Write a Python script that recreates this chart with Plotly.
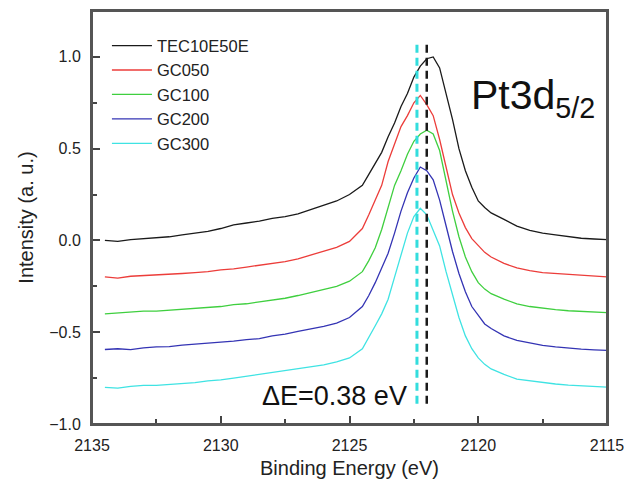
import plotly.graph_objects as go

# Binding energy grid (eV)
energy = [2134.5, 2134.0, 2133.5, 2133.0, 2132.5, 2132.0, 2131.5, 2131.0, 2130.5, 2130.0,
          2129.5, 2129.0, 2128.5, 2128.0, 2127.5, 2127.0, 2126.5, 2126.0, 2125.5, 2125.0,
          2124.5, 2124.25, 2124.0, 2123.75, 2123.5, 2123.25, 2123.0, 2122.75, 2122.5, 2122.25,
          2122.0, 2121.75, 2121.5, 2121.25, 2121.0, 2120.75, 2120.5, 2120.25, 2120.0, 2119.75,
          2119.5, 2119.0, 2118.5, 2118.0, 2117.5, 2117.0, 2116.5, 2116.0, 2115.5, 2115.0]

tec10e50e = [0.000, -0.005, 0.005, 0.010, 0.015, 0.020, 0.030, 0.038, 0.050, 0.065,
             0.085, 0.095, 0.105, 0.120, 0.130, 0.145, 0.168, 0.190, 0.215, 0.250,
             0.300, 0.360, 0.420, 0.480, 0.565, 0.640, 0.730, 0.800, 0.890, 0.950,
             0.990, 1.000, 0.940, 0.800, 0.660, 0.500, 0.380, 0.290, 0.215, 0.180,
             0.150, 0.115, 0.078, 0.055, 0.040, 0.030, 0.020, 0.012, 0.008, 0.005]

gc050 = [-0.198, -0.205, -0.195, -0.192, -0.190, -0.185, -0.180, -0.175, -0.170, -0.160,
         -0.155, -0.145, -0.135, -0.125, -0.115, -0.100, -0.080, -0.062, -0.038, -0.005,
         0.065, 0.140, 0.220, 0.300, 0.430, 0.520, 0.620, 0.680, 0.750, 0.790,
         0.740, 0.680, 0.550, 0.400, 0.250, 0.150, 0.070, 0.010, -0.030, -0.065,
         -0.090, -0.125, -0.150, -0.165, -0.175, -0.180, -0.185, -0.190, -0.195, -0.198]

gc100 = [-0.400, -0.395, -0.390, -0.385, -0.385, -0.380, -0.375, -0.370, -0.365, -0.360,
         -0.350, -0.345, -0.335, -0.325, -0.315, -0.300, -0.282, -0.266, -0.250, -0.222,
         -0.170, -0.110, -0.040, 0.060, 0.180, 0.300, 0.380, 0.470, 0.540, 0.580,
         0.600, 0.580, 0.490, 0.330, 0.160, 0.020, -0.090, -0.170, -0.230, -0.265,
         -0.290, -0.320, -0.345, -0.360, -0.370, -0.377, -0.383, -0.387, -0.390, -0.393]

gc200 = [-0.594, -0.590, -0.595, -0.585, -0.580, -0.578, -0.570, -0.565, -0.560, -0.555,
         -0.548, -0.540, -0.535, -0.520, -0.510, -0.495, -0.482, -0.468, -0.450, -0.420,
         -0.360, -0.300, -0.230, -0.150, -0.070, 0.040, 0.160, 0.260, 0.340, 0.400,
         0.380, 0.330, 0.220, 0.080, -0.060, -0.180, -0.280, -0.360, -0.410, -0.455,
         -0.480, -0.520, -0.545, -0.560, -0.572, -0.580, -0.587, -0.592, -0.596, -0.599]

gc300 = [-0.800, -0.805, -0.795, -0.790, -0.790, -0.785, -0.780, -0.775, -0.765, -0.760,
         -0.750, -0.740, -0.730, -0.722, -0.712, -0.700, -0.690, -0.678, -0.662, -0.640,
         -0.590, -0.530, -0.465, -0.400, -0.320, -0.200, -0.080, 0.040, 0.130, 0.175,
         0.140, 0.060, -0.030, -0.170, -0.300, -0.420, -0.520, -0.590, -0.640, -0.675,
         -0.700, -0.730, -0.755, -0.765, -0.775, -0.782, -0.788, -0.792, -0.796, -0.799]

series_names = ["TEC10E50E", "GC050", "GC100", "GC200", "GC300"]
series_values = [tec10e50e, gc050, gc100, gc200, gc300]
series_colors = ["#1a1a1a", "#ec3d3a", "#3fcf3f", "#3434b4", "#3fe3e3"]

# Peak positions marked with dashed lines
peak_positions = [2122.0, 2122.38]
peak_colors = ["#1a1a1a", "#33dddd"]
peak_widths = [2.5, 3]
marker_span = [-0.89, 1.08]

fig = go.Figure()
for name, vals, col in zip(series_names, series_values, series_colors):
    fig.add_trace(go.Scatter(x=energy, y=vals, mode="lines", name=name,
                             line=dict(color=col, width=1.3)))

for pos, col, w in zip(peak_positions, peak_colors, peak_widths):
    fig.add_trace(go.Scatter(x=[pos, pos], y=marker_span, mode="lines", showlegend=False,
                             line=dict(color=col, width=w, dash="8px,5px")))

font_family = "Liberation Sans, Arial, sans-serif"

fig.add_annotation(x=2120.35, y=0.775, xref="x", yref="y", text="Pt3d<sub>5/2</sub>",
                   showarrow=False, xanchor="left", yanchor="middle",
                   font=dict(size=41, color="#111111", family=font_family))
fig.add_annotation(x=2125.6, y=-0.85, xref="x", yref="y", text="ΔE=0.38 eV",
                   showarrow=False, xanchor="center", yanchor="middle",
                   font=dict(size=27, color="#111111", family=font_family))

# Plot frame
fig.add_shape(type="rect", xref="paper", yref="paper", x0=0, y0=0, x1=1, y1=1,
              line=dict(color="#555555", width=2), fillcolor="rgba(0,0,0,0)", layer="above")

axis_common = dict(showline=True, linecolor="#555555", linewidth=2, mirror=True,
                   ticks="inside", ticklen=8, tickwidth=1.5, tickcolor="#444444",
                   showgrid=False, zeroline=False, ticklabeloverflow="allow",
                   automargin=False,
                   tickfont=dict(size=16, color="#222222", family=font_family))

fig.update_layout(
    width=624, height=485,
    margin=dict(l=92, r=17, t=11, b=61, autoexpand=False),
    paper_bgcolor="white", plot_bgcolor="white",
    font=dict(family=font_family, color="#222222"),
    showlegend=True,
    legend=dict(x=0.029, y=0.958, xanchor="left", yanchor="top",
                bgcolor="rgba(0,0,0,0)", font=dict(size=16.5, color="#222222"),
                itemwidth=40),
    xaxis=dict(range=[2135, 2115], tickvals=[2135, 2130, 2125, 2120, 2115],
               ticktext=["2135", "2130", "2125", "2120", "2115"],
               minor=dict(ticks="inside", ticklen=5, tickcolor="#444444", dtick=2.5, tick0=2115),
               title=dict(text="Binding Energy (eV)", font=dict(size=20, color="#222222"), standoff=8),
               ticklabelstandoff=6,
               **axis_common),
    yaxis=dict(range=[-1.0, 1.25], tickvals=[-1.0, -0.5, 0.0, 0.5, 1.0],
               ticktext=["\u22121.0", "\u22120.5", "0.0", "0.5", "1.0"],
               minor=dict(ticks="inside", ticklen=5, tickcolor="#444444", dtick=0.25, tick0=0),
               title=dict(text="Intensity (a. u.)", font=dict(size=20, color="#222222"), standoff=10),
               ticklabelstandoff=6,
               **axis_common),
)

# Remove the default page margin so the 624x485 figure fills the window exactly.
fig.write_html("out.html",
               config={"displayModeBar": False},
               post_script="document.body.style.margin='0';document.body.style.overflow='hidden';")
